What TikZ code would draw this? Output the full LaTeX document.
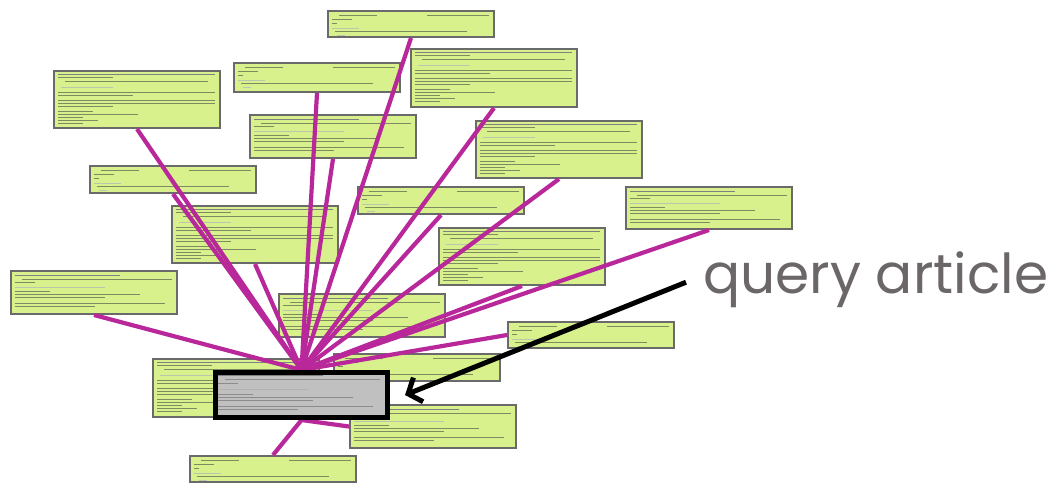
\documentclass[tikz,border=0pt]{standalone}
\usepackage{fontspec}
\newfontfamily\labelfont{Poppins}
\usetikzlibrary{arrows.meta}
\definecolor{boxfill}{HTML}{D8F18C}
\definecolor{boxline}{HTML}{6A6A6A}
\definecolor{linkcol}{HTML}{B8289A}
\definecolor{qfill}{HTML}{C0C0C0}
\definecolor{lblcol}{HTML}{6B6667}
\definecolor{txtcol}{HTML}{7E8A60}
\pgfdeclarelayer{front}
\pgfsetlayers{main,front}
\tikzset{
  card/.style={draw=boxline, line width=2pt, fill=boxfill, inner sep=0pt, anchor=north west, minimum width=166pt},
  shortcard/.style={card, minimum height=27pt},
  midcard/.style={card, minimum height=43pt},
  tallcard/.style={card, minimum height=57pt},
  qcard/.style={draw=black, line width=5pt, fill=qfill, inner sep=0pt, anchor=north west, minimum width=172pt, minimum height=45pt},
  linkline/.style={draw=linkcol, line width=4.2pt},
  tl/.style={draw=txtcol, line width=0.7pt},
  tlb/.style={draw=black!50, line width=1pt},
  tll/.style={draw=txtcol!50, line width=0.6pt},
  pointer/.style={draw=black, line width=5pt, -{Straight Barb[length=11pt,width=26pt,line width=5pt]}},
  lbl/.style={font=\labelfont\fontsize{55}{62}\selectfont, text=lblcol, inner sep=0pt, anchor=base west}
}
\newcommand{\ShortLines}[1]{%
  \begin{scope}[shift={(#1.north west)}]
    \draw[tl] (12,5)--(50,5) (100,5)--(162,5);
    \draw[tl] (5,9)--(25,9) (5,13)--(10,13);
    \draw[tll] (5,18)--(32,18);
    \draw[tl] (8,21)--(140,21);
    \draw[tll] (10,25)--(18,25);
  \end{scope}}
\newcommand{\MidLines}[1]{%
  \begin{scope}[shift={(#1.north west)}]
    \draw[tlb] (5,5)--(110,5);
    \draw[tl] (12,9)--(162,9) (5,12)--(25,12);
    \draw[tll] (5,17)--(95,17);
    \draw[tl] (5,21)--(40,21) (5,24)--(130,24) (5,27)--(95,27);
    \draw[tl] (5,33)--(155,33) (5,36)--(85,36);
  \end{scope}}
\newcommand{\TallLines}[1]{%
  \begin{scope}[shift={(#1.north west)}]
    \draw[tlb] (5,4)--(162,4);
    \draw[tl] (5,7)--(60,7) (12,11)--(155,11);
    \draw[tll] (8,17)--(60,17);
    \draw[tl] (5,22)--(162,22) (5,25)--(80,25);
    \draw[tl] (5,30)--(162,30) (5,33)--(162,33) (5,36)--(60,36);
    \draw[tl] (5,41)--(40,41) (5,44)--(85,44) (5,47)--(30,47) (5,50)--(45,50) (5,53)--(30,53);
  \end{scope}}
\begin{document}
\begin{tikzpicture}[x=1pt, y=-1pt]
\useasboundingbox[fill=white] (0,0) rectangle (1048,483);
% article cards
\node[shortcard, minimum height=26pt] (A) at (327,10) {}; \ShortLines{A}
\node[tallcard, minimum height=58pt] (B) at (410,48) {}; \TallLines{B}
\node[tallcard] (C) at (53,70) {}; \TallLines{C}
\node[shortcard, minimum height=29pt] (D) at (233,62) {}; \ShortLines{D}
\node[midcard] (E) at (249,114) {}; \MidLines{E}
\node[shortcard] (F) at (89,165) {}; \ShortLines{F}
\node[tallcard] (G) at (475,120) {}; \TallLines{G}
\node[shortcard] (H) at (357,186) {}; \ShortLines{H}
\node[midcard, minimum height=42pt] (I) at (625,186) {}; \MidLines{I}
\node[tallcard] (J) at (438,227) {}; \TallLines{J}
\node[tallcard] (K) at (171,205) {}; \TallLines{K}
\node[midcard] (L) at (10,270) {}; \MidLines{L}
\node[midcard] (M) at (278,293) {}; \MidLines{M}
\node[shortcard, minimum height=26pt] (N) at (507,321) {}; \ShortLines{N}
\node[shortcard] (O) at (333,353) {}; \ShortLines{O}
\node[tallcard, minimum height=58pt] (P) at (152,358) {}; \TallLines{P}
\node[midcard] (R) at (349,404) {}; \MidLines{R}
\node[shortcard, minimum height=26pt] (S) at (189,455) {}; \ShortLines{S}
% query article
\begin{pgfonlayer}{front}
\node[qcard] (Q) at (213,370) {};
\begin{scope}[shift={(Q.north west)}]
  \draw[tlb] (5,5)--(110,5);
  \draw[draw=black!45, line width=0.7pt] (12,9)--(167,9) (5,13)--(25,13);
  \draw[draw=black!30, line width=0.6pt] (5,19)--(95,19);
  \draw[draw=black!45, line width=0.7pt] (5,24)--(40,24) (5,27)--(140,27) (5,30)--(100,30);
  \draw[draw=black!45, line width=0.7pt] (5,36)--(160,36) (5,39)--(85,39);
\end{scope}
\end{pgfonlayer}
% links
\foreach \t in {L,C,F,K,D,E,A,H,B,G,J,I}
  \draw[linkline] (Q.north) -- (\t.south);
\draw[linkline] (Q.north) -- (N.west);
\draw[linkline] (Q.south) -- (S.north);
\draw[linkline] (Q.south) -- (R.west);
% label and pointer
\node[lbl] (T) at (703,293) {query article};
\begin{pgfonlayer}{front}
\draw[pointer] ([xshift=-17pt,yshift=-3pt]T.west) -- ([xshift=15pt]Q.east);
\end{pgfonlayer}
\end{tikzpicture}
\end{document}
